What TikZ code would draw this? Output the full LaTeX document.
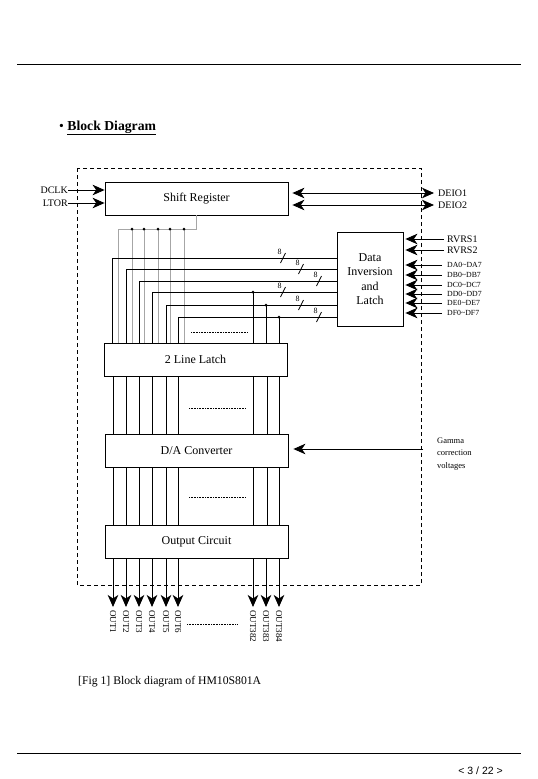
\documentclass[tikz,border=0pt]{standalone}
\usepackage{fontspec}
\setmainfont{Liberation Serif}
\newfontfamily\arialfont{Liberation Sans}
\usetikzlibrary{arrows.meta,calc}
\begin{document}
\begin{tikzpicture}[x=1pt,y=-1pt,
  blk/.style={draw,line width=0.8pt,minimum width=183pt,minimum height=33pt,inner sep=0pt,font=\fontsize{12}{13}\selectfont},
  wire/.style={line width=0.8pt},
  gwire/.style={line width=0.9pt,draw=black!35},
  arr/.style={line width=0.9pt,-{Stealth[length=12pt,width=10.5pt,inset=3.5pt]}},
  darr/.style={line width=0.9pt,{Stealth[length=12pt,width=10.5pt,inset=3.5pt]}-{Stealth[length=12pt,width=10.5pt,inset=3.5pt]}},
  lbl/.style={font=\fontsize{10}{11}\selectfont,inner sep=0pt},
  slbl/.style={font=\fontsize{7.8}{9}\selectfont,inner sep=0pt},
  olbl/.style={font=\fontsize{9}{10}\selectfont,inner sep=0pt,rotate=-90,anchor=west},
  jdot/.style={circle,fill,inner sep=0pt,minimum size=3pt},
  dots/.style={line width=0.6pt,dash pattern=on 0.8pt off 0.8pt}
]
\useasboundingbox (0,0) rectangle (538,779);
\fill[white] (0,0) rectangle (538,779);

% page rules
\coordinate (tl) at (17,64); \coordinate (tr) at (521,64);
\coordinate (bl) at (17,753); \coordinate (br) at (521,753);
\draw[line width=0.8pt] (tl) -- (tr);
\draw[line width=0.8pt] (bl) -- (br);
\node[font=\arialfont\fontsize{10.5}{12}\selectfont,anchor=east,inner sep=0pt] (pg) at (503,771) {< 3 / 22 >};

% title
\node[anchor=west,inner sep=0pt,font=\fontsize{13.7}{15}\selectfont] (title) at (59,128) {\textbullet\ \underline{\textbf{Block Diagram}}};

% dashed frame
\draw[line width=0.8pt,dash pattern=on 4pt off 3pt] (77,168) rectangle (421,585);

% blocks
\node[blk] (sr) at (196.5,198.5) {Shift Register};
\node[blk] (lat) at (195.5,359.5) {2 Line Latch};
\node[blk] (dac) at (196.5,450.5) {D/A Converter};
\node[blk] (oc) at (196.5,541.5) {Output Circuit};
\node[draw,line width=0.8pt,minimum width=66pt,minimum height=94pt,inner sep=0pt,align=center,font=\fontsize{12}{14.3}\selectfont] (dil) at (370,279) {Data\\Inversion\\and\\Latch};

% left inputs
\node[lbl,anchor=east] (dclk) at (68,190) {DCLK};
\node[lbl,anchor=east] (ltor) at (68,203) {LTOR};
\draw[arr] (dclk.east) -- (sr.west |- dclk.east);
\draw[arr] (ltor.east) -- (sr.west |- ltor.east);

% DEIO
\node[lbl,anchor=west] (deio1) at (438,193) {DEIO1};
\node[lbl,anchor=west] (deio2) at (438,205) {DEIO2};
\draw[darr] ($(sr.east |- deio1.west)+(4,0)$) -- ($(deio1.west)+(-4,0)$);
\draw[darr] ($(sr.east |- deio2.west)+(4,0)$) -- ($(deio2.west)+(-4,0)$);

% right inputs to data inversion
\foreach \n/\y in {RVRS1/239,RVRS2/250}{
  \node[lbl,anchor=west] (\n) at (447,\y) {\n};
  \draw[arr] ($(\n.west)+(-3,0)$) -- ($(dil.east |- \n.west)+(2,0)$);
}
\foreach \a/\y in {A/265,B/275,C/285,D/294,E/303,F/313}{
  \node[slbl,anchor=west] (d\a) at (447,\y) {D\a0\textasciitilde D\a7};
  \draw[arr] ($(d\a.west)+(-5,0)$) -- ($(dil.east |- d\a.west)+(2,0)$);
}

% gamma
\node[anchor=west,align=left,inner sep=0pt,font=\fontsize{8.5}{12.5}\selectfont] (gam) at (437,454) {Gamma\\correction\\voltages};
\draw[arr] (423,449) -- ($(dac.east |- 0,449)+(5,0)$);

% gray wires from shift register
\coordinate (gL) at (118,229);
\coordinate (gR) at (sr.south |- gL);
\draw[gwire] (sr.south) -- (gR) -- (gL);
\foreach \x in {118,132,144,158,170,184}{
  \draw[gwire] (\x,229) -- (\x,343);
}
\foreach \x in {132,144,158,170,184}{
  \node[jdot] at (\x,229) {};
}

% black data buses from data inversion
\foreach \y/\x in {258/112,269/126,281/139,292/152,305/166,317/178}{
  \draw[wire] (dil.west |- 0,\y) -- (\x,\y) -- (\x,343);
}
\foreach \y/\x in {292/253,305/266,317/279}{
  \draw[wire] (\x,\y) -- (\x,343);
  \node[jdot] at (\x,\y) {};
}
% bus width marks
\foreach \y/\x in {258/283,269/301,281/319,292/283,305/301,317/319}{
  \draw[line width=0.8pt] (\x-2.5,\y+5) -- (\x+2.5,\y-5);
  \node[font=\fontsize{8}{9}\selectfont,inner sep=0pt] at (\x-3.5,\y-6.5) {8};
}
\draw[dots] (191,332) -- (248,332);

% wires between latch, dac, output
\foreach \x in {113,126,139,152,166,178,253,267,279}{
  \draw[wire] (\x,376) -- (\x,434);
  \draw[wire] (\x,467) -- (\x,525);
}
\draw[dots] (189,408) -- (246,408);
\draw[dots] (189,497) -- (246,497);

% outputs
\foreach \x/\t in {113/OUT1,126/OUT2,139/OUT3,152/OUT4,166/OUT5,178/OUT6,253/OUT382,266/OUT383,279/OUT384}{
  \coordinate (o\t) at (\x,607);
  \draw[arr] (\x,558) -- (o\t);
  \node[olbl] (l\t) at (\x,610) {\t};
}
\draw[dots] (187,624) -- (237,624);

% caption
\node[anchor=west,inner sep=0pt,font=\fontsize{11.7}{13}\selectfont] (cap) at (78,682) {[Fig 1] Block diagram of HM10S801A};
\end{tikzpicture}
\end{document}
